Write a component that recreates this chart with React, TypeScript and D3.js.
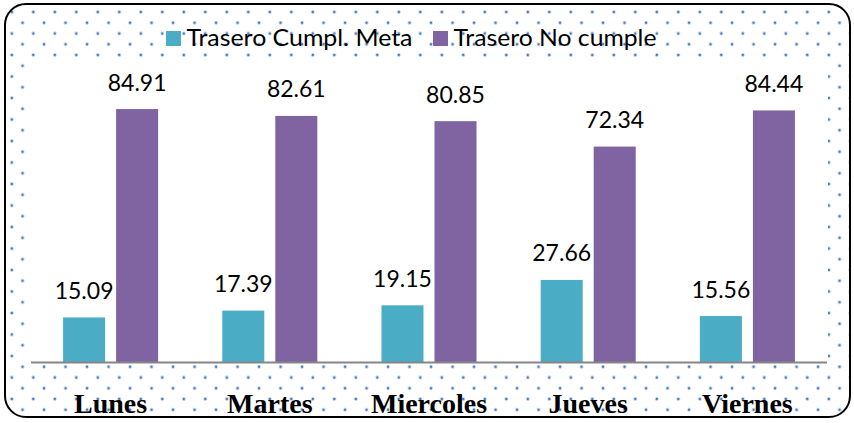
import React from "react";
import * as d3 from "d3";

const categories = ["Lunes", "Martes", "Miercoles", "Jueves", "Viernes"];
const seriesNames = ["Trasero Cumpl. Meta", "Trasero No cumple"];
const cumpleValues = [15.09, 17.39, 19.15, 27.66, 15.56];
const noCumpleValues = [84.91, 82.61, 80.85, 72.34, 84.44];
const seriesColors = ["#4BACC6", "#8064A2"];

const W = 854;
const H = 423;
const plotLeft = 30;
const plotRight = 828;
const plotTop = 60;
const axisY = 362.5;

export default function App() {
  const x0 = d3
    .scaleBand<string>()
    .domain(categories)
    .range([31, 827])
    .paddingInner(0.403)
    .paddingOuter(0.2015);
  const x1 = d3
    .scaleBand<string>()
    .domain(seriesNames)
    .range([0, x0.bandwidth()])
    .paddingInner(0.2075)
    .paddingOuter(0);
  const y = d3.scaleLinear().domain([0, 100]).range([axisY, axisY - 298.5]);

  const seriesValues = [cumpleValues, noCumpleValues];
  const fmt = d3.format(".2f");

  const dotPositions = [
    [0, 0],
    [21.5, 0],
    [0, 21.5],
    [21.5, 21.5],
    [10.75, 10.75],
  ];

  return (
    <svg
      width={W}
      height={H}
      style={{ position: "absolute", left: 0, top: 0, display: "block" }}
    >
      <defs>
        <pattern
          id="dots"
          patternUnits="userSpaceOnUse"
          x={11.8}
          y={12}
          width={21.5}
          height={21.5}
        >
          {dotPositions.map(([cx, cy], i) => (
            <circle key={"h" + i} cx={cx} cy={cy} r={1.9} fill="#c4d5ee" />
          ))}
          {dotPositions.map(([cx, cy], i) => (
            <circle key={"c" + i} cx={cx} cy={cy} r={1.15} fill="#4379c0" />
          ))}
        </pattern>
        <clipPath id="frame">
          <rect x={5} y={4} width={845} height={413} rx={21} ry={21} />
        </clipPath>
      </defs>
      <rect x={0} y={0} width={W} height={H} fill="#ffffff" />
      <g clipPath="url(#frame)">
        <rect x={0} y={0} width={W} height={H} fill="url(#dots)" />
        <rect
          x={plotLeft}
          y={plotTop}
          width={plotRight - plotLeft}
          height={axisY - plotTop}
          fill="#ffffff"
        />
      </g>

      {/* bars */}
      {seriesNames.map((s, si) => (
        <g key={s}>
          {categories.map((c, ci) => {
            const v = seriesValues[si][ci];
            const bx = (x0(c) ?? 0) + (x1(s) ?? 0);
            const bw = x1.bandwidth();
            return (
              <g key={c}>
                <rect
                  x={bx}
                  y={y(v)}
                  width={bw}
                  height={axisY - y(v)}
                  fill={seriesColors[si]}
                />
                <text
                  x={bx + bw / 2}
                  y={y(v) - 18.5}
                  textAnchor="middle"
                  fontFamily="Lato, 'Open Sans', sans-serif"
                  fontSize={23}
                  fill="#000"
                >
                  {fmt(v)}
                </text>
              </g>
            );
          })}
        </g>
      ))}

      {/* axis line */}
      <line
        x1={31}
        x2={827}
        y1={axisY}
        y2={axisY}
        stroke="#868686"
        strokeWidth={2}
      />

      {/* category labels */}
      {categories.map((c) => (
        <text
          key={c}
          x={(x0(c) ?? 0) + x0.bandwidth() / 2}
          y={412.5}
          textAnchor="middle"
          fontFamily="'Liberation Serif', 'Times New Roman', serif"
          fontWeight="bold"
          fontSize={28}
          fill="#000"
        >
          {c}
        </text>
      ))}

      {/* legend */}
      {seriesNames.map((s, i) => {
        const lx = [166, 433][i];
        const tl = [226, 203][i];
        return (
          <g key={s}>
            <rect x={lx} y={31} width={15} height={15} fill={seriesColors[i]} />
            <text
              x={lx + 20.5}
              y={46}
              fontFamily="Lato, 'Open Sans', sans-serif"
              fontSize={23}
              textLength={tl}
              lengthAdjust="spacingAndGlyphs"
              fill="#000"
            >
              {s}
            </text>
          </g>
        );
      })}

      {/* border */}
      <rect
        x={5}
        y={4}
        width={845}
        height={413}
        rx={21}
        ry={21}
        fill="none"
        stroke="#000"
        strokeWidth={2}
      />
    </svg>
  );
}
